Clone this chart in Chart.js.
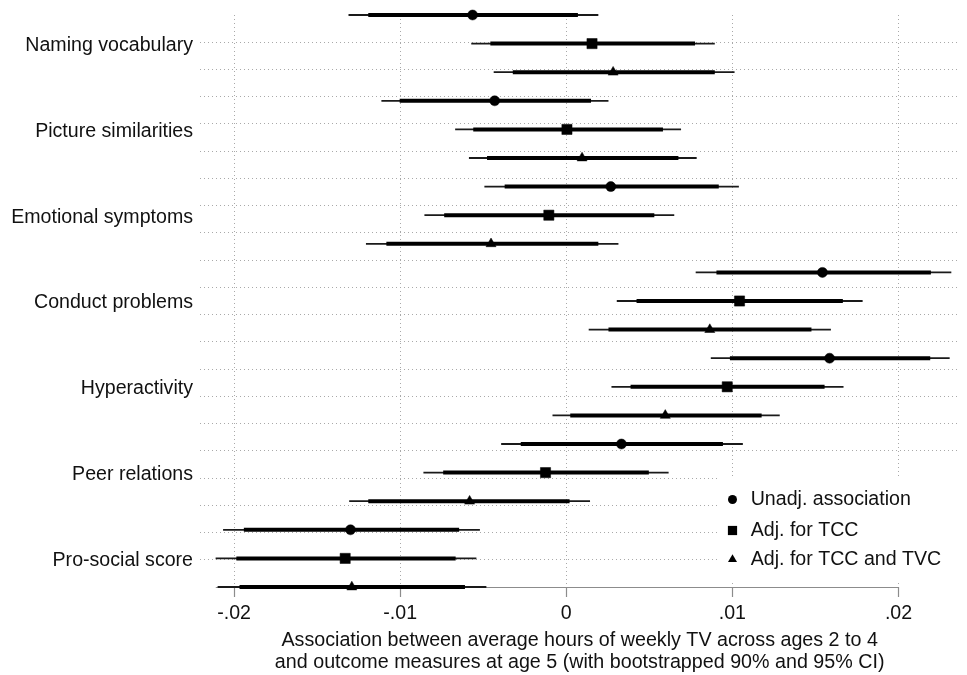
<!DOCTYPE html>
<html><head><meta charset="utf-8">
<script src="https://cdn.jsdelivr.net/npm/chart.js@4.4.1/dist/chart.umd.min.js"></script>
<style>html,body{margin:0;padding:0;background:#fff;}</style>
</head><body>
<canvas id="c" width="967" height="675" style="width:967px;height:675px;display:block"></canvas>
<script>
// ---------- data ----------
const categories = ["Naming vocabulary","Picture similarities","Emotional symptoms","Conduct problems","Hyperactivity","Peer relations","Pro-social score"];
const seriesNames = ["Unadj. association","Adj. for TCC","Adj. for TCC and TVC"];
const xTicks = [-0.02, -0.01, 0, 0.01, 0.02];
const axisRange = [-0.0211, 0.02];

// Unadjusted association (circle)
const unadjEst  = [-0.00564, -0.00431,  0.00268, 0.01542, 0.01585,  0.00332, -0.01299];
const unadjLo90 = [-0.01192, -0.01003, -0.00371, 0.00904, 0.00985, -0.00274, -0.01941];
const unadjHi90 = [ 0.00070,  0.00149,  0.00918, 0.02195, 0.02191,  0.00943, -0.00645];
const unadjLo95 = [-0.01311, -0.01113, -0.00493, 0.00779, 0.00870, -0.00392, -0.02066];
const unadjHi95 = [ 0.00193,  0.00254,  0.01039, 0.02318, 0.02308,  0.01063, -0.00520];

// Adjusted for TCC (square)
const tccEst  = [ 0.00155,  0.00004, -0.00105, 0.01043, 0.00969, -0.00125, -0.01331];
const tccLo90 = [-0.00457, -0.00560, -0.00735, 0.00423, 0.00387, -0.00741, -0.01986];
const tccHi90 = [ 0.00775,  0.00582,  0.00530, 0.01665, 0.01555,  0.00497, -0.00666];
const tccLo95 = [-0.00572, -0.00669, -0.00854, 0.00304, 0.00272, -0.00860, -0.02111];
const tccHi95 = [ 0.00894,  0.00691,  0.00650, 0.01784, 0.01669,  0.00616, -0.00541];

// Adjusted for TCC and TVC (triangle)
const tvcEst  = [ 0.00282,  0.00095, -0.00453, 0.00864,  0.00596, -0.00582, -0.01291];
const tvcLo90 = [-0.00322, -0.00477, -0.01083, 0.00254,  0.00024, -0.01192, -0.01967];
const tvcHi90 = [ 0.00894,  0.00675,  0.00193, 0.01476,  0.01176,  0.00020, -0.00610];
const tvcLo95 = [-0.00437, -0.00586, -0.01206, 0.00135, -0.00083, -0.01307, -0.02099];
const tvcHi95 = [ 0.01013,  0.00785,  0.00314, 0.01593,  0.01285,  0.00143, -0.00481];

// ---------- build ----------
const FONT = '"Liberation Sans", Arial, Helvetica, sans-serif';
const series = [
  {name: seriesNames[0], est: unadjEst, lo90: unadjLo90, hi90: unadjHi90, lo95: unadjLo95, hi95: unadjHi95, style: 'circle', r: 5.0},
  {name: seriesNames[1], est: tccEst, lo90: tccLo90, hi90: tccHi90, lo95: tccLo95, hi95: tccHi95, style: 'rect', r: 7.2},
  {name: seriesNames[2], est: tvcEst, lo90: tvcLo90, hi90: tvcHi90, lo95: tvcLo95, hi95: tvcHi95, style: 'triangle', r: 5.8}
];
const nS = series.length;
const nRows = categories.length * nS;          // 21 rows
const rowOf = (c, s) => c * nS + s;
const gridSteps = nRows;                       // gridlines divide the row range in 21 parts

function segData(lo, hi, s) {
  const out = [];
  lo.forEach((v, c) => {
    out.push({x: v, y: rowOf(c, s)}, {x: hi[c], y: rowOf(c, s)}, {x: null, y: null});
  });
  return out;
}

const datasets = [];
series.forEach((sr, s) => {
  datasets.push({
    label: sr.name, order: 0, showLine: false, clip: false,
    data: sr.est.map((v, c) => ({x: v, y: rowOf(c, s)})),
    pointStyle: sr.style, pointRadius: sr.r, pointBackgroundColor: '#000',
    pointBorderColor: '#000', pointBorderWidth: 0.5
  });
});
series.forEach((sr, s) => {
  datasets.push({
    label: sr.name + ' 90%', order: 1, clip: false, spanGaps: false,
    data: segData(sr.lo90, sr.hi90, s), borderColor: '#000', borderWidth: 4,
    borderCapStyle: 'butt', pointRadius: 0, tension: 0
  });
  datasets.push({
    label: sr.name + ' 95%', order: 2, clip: false, spanGaps: false,
    data: segData(sr.lo95, sr.hi95, s), borderColor: '#1a1a1a', borderWidth: 1.8,
    borderCapStyle: 'butt', pointRadius: 0, tension: 0
  });
});

const gridColor = '#a9a9a9';
const axisColor = '#8c8c8c';

const decor = {
  id: 'decor',
  beforeDatasetsDraw(chart) {
    const {ctx, chartArea, scales: {x}} = chart;
    ctx.save();
    // legend background box
    ctx.fillStyle = '#fff';
    ctx.fillRect(717, 476, 967 - 717, 104);
    // x axis line over the axis range
    ctx.strokeStyle = axisColor; ctx.lineWidth = 1.2;
    const y0 = Math.round(chartArea.bottom) + 0.5;
    ctx.beginPath();
    ctx.moveTo(x.getPixelForValue(axisRange[0]), y0);
    ctx.lineTo(x.getPixelForValue(axisRange[1]), y0);
    ctx.stroke();
    ctx.restore();
  },
  afterDatasetsDraw(chart) {
    const ctx = chart.ctx;
    ctx.save();
    const mx = 732.5, tx = 750.7, ys = [499.5, 530.5, 559.5];
    ctx.fillStyle = '#000';
    // circle
    ctx.beginPath(); ctx.arc(mx, ys[0], 4.5, 0, Math.PI * 2); ctx.fill();
    // square
    ctx.fillRect(mx - 4.6, ys[1] - 4.6, 9.2, 9.2);
    // triangle
    const r = 5.2;
    ctx.beginPath();
    ctx.moveTo(mx, ys[2] - r);
    ctx.lineTo(mx + r * Math.sin(Math.PI * 2 / 3), ys[2] + r / 2);
    ctx.lineTo(mx - r * Math.sin(Math.PI * 2 / 3), ys[2] + r / 2);
    ctx.closePath(); ctx.fill();
    ctx.font = '19.6px ' + FONT;
    ctx.textBaseline = 'middle'; ctx.textAlign = 'left';
    ctx.fillStyle = '#111';
    seriesNames.forEach((n, i) => ctx.fillText(n, tx, ys[i]));
    ctx.restore();
  }
};

new Chart(document.getElementById('c'), {
  type: 'line',
  data: {datasets},
  plugins: [decor],
  options: {
    responsive: false, animation: false,
    layout: {padding: {top: 15, left: 0, right: 0, bottom: 0}},
    plugins: {legend: {display: false}, tooltip: {enabled: false}},
    scales: {
      x: {
        type: 'linear', min: -0.02205, max: 0.02366,
        afterBuildTicks: (s) => { s.ticks = xTicks.map(v => ({value: v})); },
        afterFit: (s) => { s.height = 88; s.paddingLeft = 0; s.paddingRight = 0; },
        ticks: {
          autoSkip: false, padding: 5, color: '#111', maxRotation: 0,
          font: {family: FONT, size: 19.6},
          callback: (v) => v === 0 ? '0' : (v < 0 ? '-' : '') + '.' + String(Math.round(Math.abs(v) * 100)).padStart(2, '0')
        },
        grid: {color: gridColor, lineWidth: 1, drawTicks: true, tickLength: 10,
               tickColor: axisColor, tickWidth: 1.2, tickBorderDash: []},
        border: {display: false, dash: [1, 3]},
        title: {
          display: true, color: '#111', padding: {top: 0, bottom: 1},
          text: ['Association between average hours of weekly TV across ages 2 to 4',
                 'and outcome measures at age 5 (with bootstrapped 90% and 95% CI)'],
          font: {family: FONT, size: 19.7, lineHeight: 22 / 19.7}
        }
      },
      y: {
        type: 'linear', min: 0, max: nRows - 1, reverse: true,
        afterBuildTicks: (s) => {
          const t = [];
          for (let k = 1; k < gridSteps; k++) t.push({value: k * (nRows - 1) / gridSteps});
          categories.forEach((c, i) => t.push({value: rowOf(i, 1)}));
          s.ticks = t;
        },
        afterFit: (s) => { s.width = 200; s.paddingTop = 0; s.paddingBottom = 0; },
        ticks: {
          autoSkip: false, padding: 7, color: '#111', labelOffset: 2,
          font: {family: FONT, size: 19.6},
          callback: (v) => {
            if (Number.isInteger(v) && (v - 1) % nS === 0) return categories[(v - 1) / nS];
            return '';
          }
        },
        grid: {
          drawTicks: false, lineWidth: 1,
          color: (ctx) => (ctx.tick && Number.isInteger(ctx.tick.value)) ? 'rgba(0,0,0,0)' : gridColor
        },
        border: {display: false, dash: [1, 3]}
      }
    }
  }
});
</script>
</body></html>
